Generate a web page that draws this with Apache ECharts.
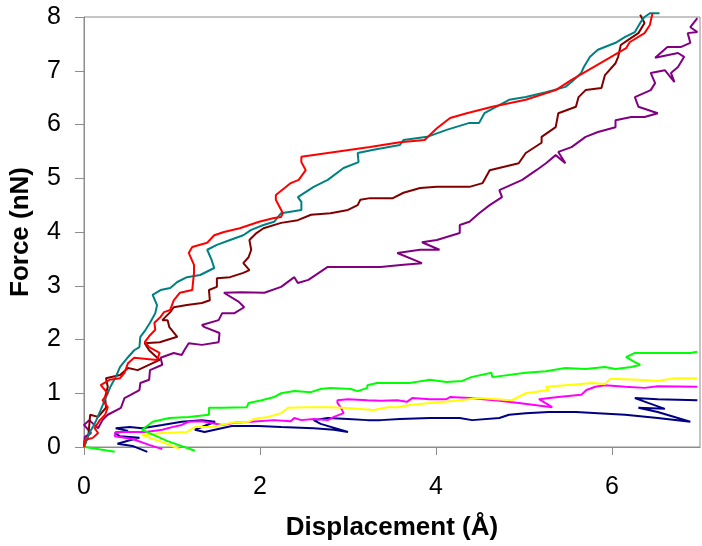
<!DOCTYPE html>
<html>
<head>
<meta charset="utf-8">
<script src="https://cdn.jsdelivr.net/npm/echarts@6/dist/echarts.min.js"></script>
<style>html,body{margin:0;padding:0;background:#fff}#c{width:702px;height:546px}</style>
</head>
<body>
<div id="c"></div>
<script>
// Tick labels
const xTicks = [0, 2, 4, 6];
const yTicks = [0, 1, 2, 3, 4, 5, 6, 7, 8];

// Series: [displacement (Å), force (nN)]
const teal = [[0.01,0.04],[0.03,0.13],[0.06,0.26],[0.10,0.37],[0.14,0.50],[0.19,0.69],[0.25,0.93],[0.30,1.12],[0.36,1.30],[0.41,1.49],[0.50,1.67],[0.57,1.80],[0.63,1.86],[0.64,2.05],[0.70,2.18],[0.75,2.31],[0.81,2.49],[0.83,2.64],[0.78,2.83],[0.87,2.92],[0.98,2.96],[1.06,3.07],[1.17,3.16],[1.32,3.20],[1.48,3.33],[1.45,3.48],[1.40,3.67],[1.51,3.76],[1.66,3.85],[1.81,3.94],[1.90,4.04],[2.04,4.13],[2.16,4.19],[2.24,4.35],[2.47,4.41],[2.47,4.56],[2.43,4.65],[2.61,4.84],[2.77,4.97],[2.95,5.19],[3.12,5.30],[3.11,5.47],[3.29,5.53],[3.59,5.62],[3.63,5.71],[3.90,5.77],[4.12,5.90],[4.38,6.03],[4.49,6.03],[4.55,6.21],[4.83,6.46],[5.02,6.51],[5.25,6.60],[5.47,6.70],[5.54,6.79],[5.65,6.96],[5.68,7.07],[5.75,7.26],[5.84,7.39],[6.04,7.52],[6.15,7.63],[6.26,7.72],[6.32,7.89],[6.37,8.00],[6.43,8.07],[6.54,8.07]];
const red = [[0.00,0.00],[0.01,0.13],[0.10,0.17],[0.16,0.26],[0.12,0.35],[0.18,0.50],[0.24,0.60],[0.27,0.74],[0.21,0.87],[0.27,1.00],[0.19,1.15],[0.29,1.25],[0.41,1.28],[0.46,1.38],[0.50,1.56],[0.57,1.66],[0.83,1.62],[0.86,1.75],[0.74,1.86],[0.69,1.95],[0.75,2.08],[0.81,2.18],[0.80,2.31],[0.87,2.42],[0.91,2.51],[0.98,2.55],[1.02,2.73],[1.09,2.87],[1.23,2.92],[1.25,3.24],[1.25,3.39],[1.19,3.61],[1.23,3.72],[1.40,3.80],[1.48,3.94],[1.59,4.00],[1.77,4.07],[1.99,4.19],[2.16,4.26],[2.24,4.28],[2.26,4.35],[2.18,4.60],[2.18,4.69],[2.35,4.91],[2.44,4.97],[2.52,5.15],[2.47,5.30],[2.47,5.40],[2.77,5.47],[3.25,5.58],[3.59,5.67],[3.87,5.71],[4.01,5.93],[4.16,6.12],[4.35,6.21],[4.64,6.33],[5.02,6.46],[5.36,6.64],[5.54,6.83],[5.77,7.05],[5.99,7.26],[6.16,7.42],[6.20,7.53],[6.37,7.70],[6.43,7.85],[6.46,8.07]];
const darkRed = [[0.00,0.00],[0.05,0.22],[0.07,0.60],[0.16,0.56],[0.25,0.73],[0.24,0.93],[0.27,1.12],[0.25,1.28],[0.41,1.34],[0.50,1.47],[0.61,1.43],[0.86,1.62],[0.74,1.80],[0.69,1.93],[0.86,1.95],[1.06,2.05],[0.97,2.23],[0.95,2.36],[0.89,2.36],[0.98,2.51],[1.02,2.60],[1.17,2.64],[1.34,2.68],[1.43,2.73],[1.42,2.92],[1.51,2.98],[1.51,3.14],[1.66,3.16],[1.81,3.24],[1.88,3.29],[1.81,3.42],[1.87,3.53],[1.90,3.67],[1.88,3.85],[1.96,3.98],[2.04,4.07],[2.24,4.17],[2.43,4.22],[2.58,4.32],[2.80,4.35],[3.00,4.41],[3.11,4.50],[3.14,4.60],[3.25,4.63],[3.51,4.63],[3.63,4.73],[3.82,4.82],[4.01,4.84],[4.38,4.84],[4.53,4.91],[4.61,5.15],[4.94,5.28],[5.02,5.47],[5.20,5.66],[5.20,5.77],[5.36,5.95],[5.39,6.21],[5.59,6.33],[5.62,6.51],[5.70,6.64],[5.88,6.68],[5.92,6.92],[6.04,7.14],[6.07,7.26],[6.10,7.48],[6.18,7.57],[6.30,7.70],[6.37,7.89],[6.32,8.04]];
const purple = [[0.00,0.02],[0.01,0.19],[0.08,0.26],[0.00,0.41],[0.06,0.50],[0.16,0.35],[0.21,0.50],[0.27,0.60],[0.42,0.73],[0.46,0.91],[0.53,0.97],[0.63,1.06],[0.64,1.19],[0.74,1.25],[0.75,1.43],[0.89,1.53],[0.87,1.66],[1.02,1.75],[1.11,1.71],[1.14,1.80],[1.19,1.93],[1.34,1.90],[1.53,1.95],[1.54,2.12],[1.37,2.23],[1.34,2.27],[1.53,2.36],[1.57,2.49],[1.71,2.49],[1.82,2.60],[1.76,2.70],[1.59,2.87],[1.79,2.88],[2.05,2.87],[2.24,2.98],[2.39,3.16],[2.43,3.05],[2.55,3.11],[2.77,3.35],[3.03,3.35],[3.37,3.35],[3.63,3.39],[3.84,3.42],[3.56,3.61],[3.82,3.67],[4.04,3.67],[3.84,3.81],[4.01,3.85],[4.27,3.98],[4.27,4.13],[4.38,4.19],[4.49,4.35],[4.61,4.50],[4.75,4.65],[4.72,4.78],[4.98,4.97],[5.14,5.15],[5.25,5.28],[5.36,5.43],[5.47,5.28],[5.39,5.49],[5.54,5.58],[5.70,5.77],[5.84,5.86],[6.04,5.95],[6.04,6.08],[6.22,6.14],[6.37,6.14],[6.52,6.21],[6.30,6.33],[6.26,6.51],[6.44,6.64],[6.49,6.77],[6.44,6.96],[6.60,7.01],[6.71,6.79],[6.67,6.96],[6.75,7.07],[6.82,7.26],[6.75,7.33],[6.49,7.24],[6.63,7.44],[6.78,7.44],[6.89,7.52],[6.86,7.70],[6.97,7.72],[6.89,7.81],[6.97,7.98]];
const greenTail = [[0.01,0.00],[0.35,-0.09]];
const green = [[1.26,-0.07],[0.95,0.11],[0.66,0.32],[0.78,0.47],[0.97,0.54],[1.19,0.56],[1.42,0.60],[1.42,0.73],[1.57,0.73],[1.85,0.74],[1.87,0.82],[2.02,0.87],[2.16,0.93],[2.24,1.00],[2.39,1.04],[2.58,1.02],[2.69,1.08],[2.80,1.10],[3.03,1.08],[3.11,1.04],[3.22,1.10],[3.22,1.15],[3.33,1.19],[3.56,1.19],[3.70,1.19],[3.85,1.23],[3.93,1.25],[4.12,1.21],[4.30,1.23],[4.40,1.30],[4.63,1.38],[4.64,1.30],[5.02,1.38],[5.25,1.41],[5.47,1.47],[5.70,1.45],[5.92,1.49],[6.04,1.45],[6.22,1.49],[6.32,1.53],[6.26,1.58],[6.16,1.67],[6.26,1.75],[6.52,1.75],[6.89,1.75],[6.97,1.77]];
const yellow = [[1.09,-0.04],[0.89,0.09],[0.66,0.22],[0.89,0.26],[1.17,0.28],[1.26,0.37],[1.45,0.37],[1.68,0.45],[1.87,0.47],[1.93,0.52],[2.09,0.56],[2.24,0.63],[2.32,0.73],[2.55,0.74],[2.80,0.74],[2.95,0.73],[3.11,0.71],[3.29,0.69],[3.45,0.74],[3.56,0.74],[3.70,0.78],[3.93,0.82],[4.23,0.86],[4.49,0.91],[4.86,0.87],[5.02,1.00],[5.28,1.06],[5.25,1.12],[5.47,1.15],[5.77,1.19],[5.92,1.17],[5.98,1.27],[6.30,1.25],[6.52,1.23],[6.71,1.28],[6.97,1.28]];
const magenta = [[0.89,-0.04],[0.74,0.04],[0.55,0.15],[0.35,0.20],[0.36,0.28],[0.55,0.28],[0.70,0.28],[0.89,0.32],[1.00,0.37],[1.11,0.41],[1.19,0.47],[1.34,0.48],[1.57,0.41],[1.71,0.45],[1.90,0.47],[2.16,0.50],[2.35,0.48],[2.39,0.54],[2.47,0.50],[2.61,0.52],[2.77,0.50],[2.84,0.56],[2.95,0.63],[2.92,0.73],[2.88,0.82],[2.88,0.87],[3.00,0.89],[3.22,0.87],[3.37,0.86],[3.56,0.87],[3.67,0.84],[3.73,0.91],[3.93,0.89],[4.12,0.89],[4.16,0.93],[4.38,0.91],[4.72,0.86],[4.94,0.82],[5.32,0.74],[5.17,0.89],[5.39,0.93],[5.65,0.97],[5.71,1.06],[5.81,1.12],[5.92,1.15],[6.15,1.12],[6.37,1.10],[6.52,1.13],[6.97,1.12]];
const navy = [[0.72,-0.09],[0.55,0.02],[0.38,0.06],[0.53,0.13],[0.63,0.17],[0.41,0.20],[0.35,0.26],[0.50,0.30],[0.36,0.35],[0.52,0.37],[0.66,0.35],[0.89,0.41],[1.11,0.47],[1.34,0.50],[1.49,0.47],[1.26,0.32],[1.37,0.28],[1.68,0.39],[1.98,0.39],[2.24,0.37],[2.61,0.35],[2.84,0.32],[3.00,0.28],[2.69,0.43],[2.61,0.50],[2.77,0.54],[3.00,0.52],[3.22,0.50],[3.37,0.50],[3.59,0.52],[3.93,0.54],[4.27,0.54],[4.41,0.50],[4.72,0.54],[4.83,0.60],[5.02,0.63],[5.28,0.65],[5.59,0.65],[5.84,0.63],[6.15,0.60],[6.52,0.54],[6.89,0.47],[6.52,0.65],[6.30,0.73],[6.60,0.71],[6.41,0.82],[6.26,0.91],[6.52,0.89],[6.97,0.87]];

const FONT = "'Liberation Sans', Arial, sans-serif";
const chart = echarts.init(document.getElementById('c'), null, {renderer: 'canvas'});

function line(data, color) {
  return {
    type: 'line', data: data, symbol: 'none', clip: false, animation: false,
    lineStyle: {color: color, width: 2}, itemStyle: {color: color}
  };
}

chart.setOption({
  backgroundColor: '#fff',
  animation: false,
  grid: {left: 82, right: 2, top: 17, bottom: 99, show: true, borderColor: '#8c8c8c', borderWidth: 1},
  xAxis: {
    type: 'value', min: 0, max: 7, interval: 2,
    name: 'Displacement (Å)', nameLocation: 'middle', nameGap: 68,
    nameTextStyle: {fontFamily: FONT, fontSize: 26, fontWeight: 'bold', color: '#000'},
    axisLine: {lineStyle: {color: '#8c8c8c'}},
    axisTick: {show: true, length: 8, customValues: xTicks, lineStyle: {color: '#8c8c8c'}},
    axisLabel: {customValues: xTicks, fontFamily: FONT, fontSize: 25, color: '#000', margin: 28},
    splitLine: {show: false}
  },
  yAxis: {
    type: 'value', min: 0, max: 8, interval: 1,
    name: 'Force (nN)', nameLocation: 'middle', nameGap: 50,
    nameTextStyle: {fontFamily: FONT, fontSize: 26, fontWeight: 'bold', color: '#000'},
    axisLine: {show: true, lineStyle: {color: '#8c8c8c'}},
    axisTick: {show: true, length: 9, customValues: yTicks, lineStyle: {color: '#8c8c8c'}},
    axisLabel: {customValues: yTicks, fontFamily: FONT, fontSize: 25, color: '#000', margin: 23},
    splitLine: {show: false}
  },
  series: [
    line(navy, '#000080'),
    line(magenta, '#FF00FF'),
    line(yellow, '#FFFF00'),
    line(greenTail, '#00FF00'),
    line(green, '#00FF00'),
    line(purple, '#800080'),
    line(darkRed, '#800000'),
    line(teal, '#008080'),
    line(red, '#FF0000')
  ]
});
</script>
</body>
</html>
